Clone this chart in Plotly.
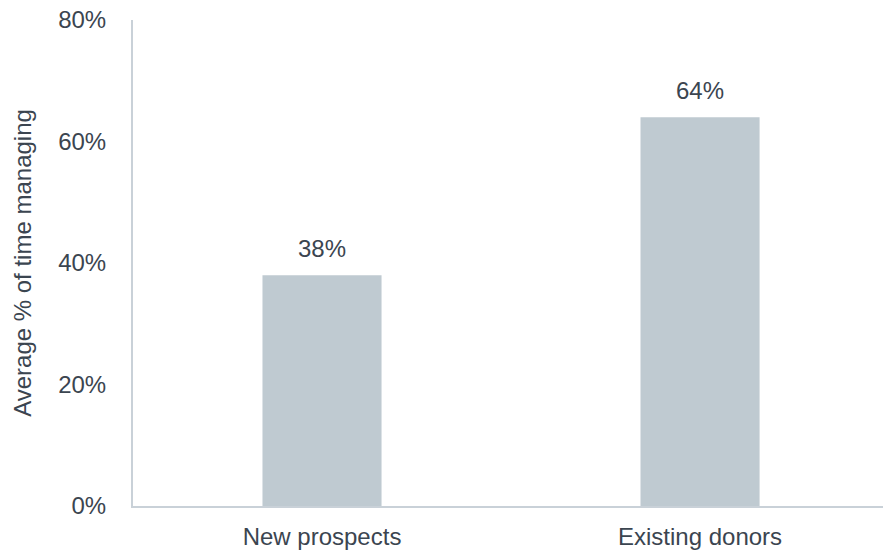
import plotly.graph_objects as go

# Share of time spent managing each donor group
categories = ["New prospects", "Existing donors"]
values = [38, 64]
value_labels = ["38%", "64%"]
y_ticks = [0, 20, 40, 60, 80]
y_tick_labels = ["0%", "20%", "40%", "60%", "80%"]

text_color = "#3B4550"
axis_color = "#C9D1D8"
bar_color = "#BFCAD1"
font_family = "Liberation Sans, Arial, sans-serif"
font_size = 24

fig = go.Figure(
    go.Bar(
        x=categories,
        y=values,
        marker=dict(color=bar_color, line=dict(width=0)),
        hoverinfo="skip",
    )
)

# value labels above each bar
for cat, val, lab in zip(categories, values, value_labels):
    fig.add_annotation(
        x=cat, y=val, text=lab, showarrow=False,
        yanchor="bottom", yshift=11,
        font=dict(size=font_size, color=text_color, family=font_family),
    )

fig.update_layout(
    width=883, height=553,
    margin=dict(l=133, r=0, t=20, b=47),
    paper_bgcolor="white", plot_bgcolor="white",
    bargap=0.685,
    showlegend=False,
    font=dict(family=font_family, size=font_size, color=text_color),
)

fig.update_xaxes(
    range=[-0.5, 1.484],
    automargin=False,
    showline=True, linecolor=axis_color, linewidth=2,
    showgrid=False, zeroline=False, ticks="",
    ticklabelstandoff=8,
    tickfont=dict(size=font_size, color=text_color, family=font_family),
)

fig.update_yaxes(
    range=[0, 80],
    automargin=False,
    tickvals=y_ticks, ticktext=y_tick_labels,
    showline=True, linecolor=axis_color, linewidth=2,
    showgrid=False, zeroline=False, ticks="",
    ticklabelstandoff=20,
    tickfont=dict(size=font_size, color=text_color, family=font_family),
    title=dict(text="Average % of time managing", standoff=20,
               font=dict(size=font_size, color=text_color, family=font_family)),
)

fig.write_html("out.html")
